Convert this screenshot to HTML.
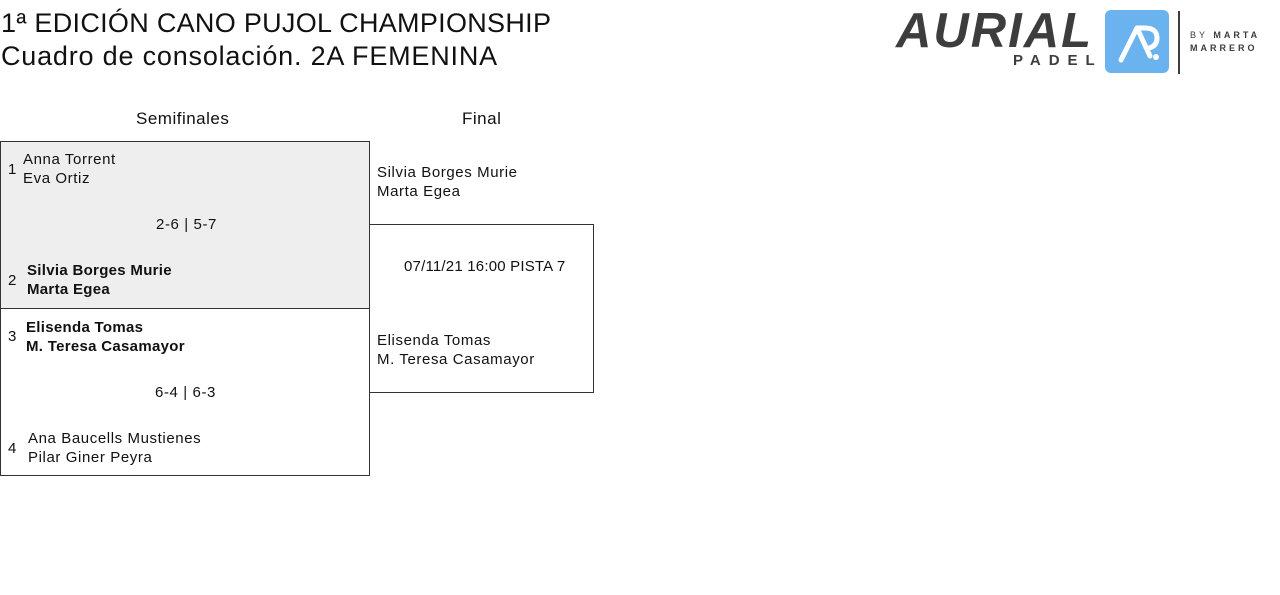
<!DOCTYPE html>
<html><head><meta charset="utf-8"><style>
body{margin:0;width:1280px;height:595px;background:#fff;font-family:"Liberation Sans",sans-serif;color:#111;position:relative;overflow:hidden}
.a{position:absolute;white-space:nowrap}
.t{font-size:15px;line-height:19px;letter-spacing:0.6px}
.b{font-weight:bold;letter-spacing:0.3px}
.h{font-size:27px;line-height:33px;letter-spacing:0.3px}
</style></head><body>
<div class="a h" style="left:1px;top:7px">1ª EDICIÓN CANO PUJOL CHAMPIONSHIP</div>
<div class="a h" style="left:1px;top:40px;letter-spacing:0.8px">Cuadro de consolación. 2A FEMENINA</div>

<!-- logo -->
<div class="a" style="left:896px;top:4px;font-size:49px;font-weight:bold;font-style:italic;color:#3d3d3d;letter-spacing:2px;line-height:54px">AURIAL</div>
<div class="a" style="left:1013px;top:52px;font-size:15px;font-weight:bold;color:#3d3d3d;letter-spacing:8px">PADEL</div>
<div class="a" style="left:1105px;top:10px;width:64px;height:63px;background:#6bb3ee;border-radius:6px"></div>
<svg class="a" style="left:1105px;top:10px" width="64" height="63"><path d="M16 50 L32 18 L40 18 Q52 18 52 28 Q52 36 44 38" stroke="#fff" stroke-width="5" fill="none" stroke-linecap="round" stroke-linejoin="round"/><path d="M32 18 L45 46" stroke="#fff" stroke-width="5" stroke-linecap="round"/><circle cx="51" cy="47" r="3" fill="#fff"/></svg>
<div class="a" style="left:1178px;top:11px;width:2px;height:63px;background:#3d3d3d"></div>
<div class="a" style="left:1190px;top:29px;font-size:9px;letter-spacing:3px;color:#3d3d3d;line-height:13px">BY <b>MARTA</b><br><b>MARRERO</b></div>

<div class="a" style="left:136px;top:109px;font-size:17px;letter-spacing:0.5px">Semifinales</div>
<div class="a" style="left:462px;top:109px;font-size:17px;letter-spacing:0.5px">Final</div>

<div class="a" style="left:0;top:141px;width:368px;height:166px;border:1px solid #333;background:#eee"></div>
<div class="a" style="left:0;top:308px;width:368px;height:167px;border:1px solid #333;border-top:none"></div>
<div class="a" style="left:369px;top:224px;width:224px;height:167px;border:1px solid #333;border-left:none"></div>

<div class="a t" style="left:8px;top:160px">1</div>
<div class="a t" style="left:23px;top:150px">Anna Torrent<br>Eva Ortiz</div>
<div class="a t" style="left:156px;top:215px">2-6 | 5-7</div>
<div class="a t" style="left:8px;top:271px">2</div>
<div class="a t b" style="left:27px;top:261px">Silvia Borges Murie<br>Marta Egea</div>

<div class="a t" style="left:8px;top:327px">3</div>
<div class="a t b" style="left:26px;top:318px">Elisenda Tomas<br>M. Teresa Casamayor</div>
<div class="a t" style="left:155px;top:383px">6-4 | 6-3</div>
<div class="a t" style="left:8px;top:439px">4</div>
<div class="a t" style="left:28px;top:429px">Ana Baucells Mustienes<br>Pilar Giner Peyra</div>

<div class="a t" style="left:377px;top:163px">Silvia Borges Murie<br>Marta Egea</div>
<div class="a t" style="left:404px;top:257px;letter-spacing:0.2px">07/11/21 16:00 PISTA 7</div>
<div class="a t" style="left:377px;top:331px">Elisenda Tomas<br>M. Teresa Casamayor</div>
</body></html>
